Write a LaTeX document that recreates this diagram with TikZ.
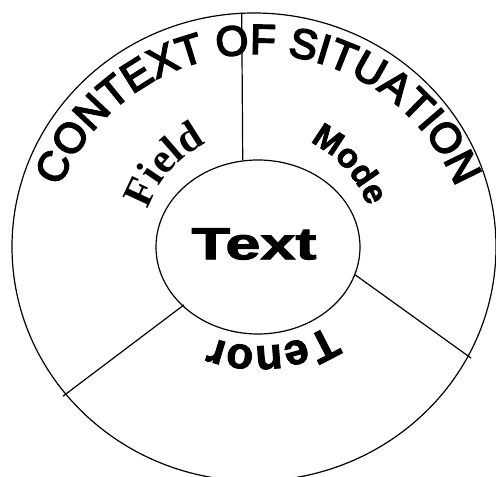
\documentclass[tikz,border=0pt]{standalone}
\usepackage{fontspec}
\usepackage{tikz}
\usepackage{xcolor}
\usetikzlibrary{
  positioning, shapes.geometric, decorations.text,
}
\definecolor{cInk}{HTML}{000000}
\newfontfamily\fSans{Liberation Sans}[FakeBold=4]
\newfontfamily\fSansBold{Liberation Sans Bold}
\newfontfamily\fSansHeavy{Liberation Sans Bold}[FakeBold=2]
\newfontfamily\fSerifBold{Liberation Serif Bold}
\newcommand\ctxFont{\fSans\fontsize{42}{46}\selectfont}
\newcommand\fieldFont{\fSerifBold\fontsize{42}{46}\selectfont}
\newcommand\modeFont{\fSansHeavy\fontsize{34}{38}\selectfont}
\newcommand\tenorFont{\fSansHeavy\fontsize{44}{48}\selectfont}

\tikzset{
  ring/.style={draw=cInk, ellipse, line width=1.2pt, inner sep=0pt},
  divider/.style={draw=cInk, line width=1.2pt},
  arch/.style={decorate, decoration={text along path, text align=center, text color=cInk}},
}

\begin{document}
\begin{tikzpicture}[x=1pt, y=1pt]
  \clip (0,0) rectangle (496,477);
  \useasboundingbox (0,0) rectangle (496,477);
  % the two rings
  \node[ring, minimum width=484pt, minimum height=468pt] (situation) at (254,230) {};
  \node[ring, minimum width=204pt, minimum height=174pt] (core) at (258,230) {};
  \node[font=\fSansHeavy\fontsize{45}{48}\selectfont, text=cInk, xscale=1.4] (text) at (254,233) {Text};
  % dividers between field, mode and tenor
  \draw[divider] (core.100) -- (situation.93);
  \draw[divider, shorten <=-2pt, shorten >=-3pt] (core.218) -- (situation.218);
  \draw[divider, shorten >=-3pt] (core.-16) -- (situation.-27.8);
  % curved labels
  \coordinate (hub) at (258,209);
  \path[arch, font=\ctxFont, decoration={text={|\ctxFont|CONTEXT OF SITUATION}}]
    ([shift={(165:214)}]hub) arc[start angle=165, end angle=15, radius=214];
  \path[arch, font=\fieldFont, decoration={text={|\fieldFont|Field}}]
    ([shift={(184:116)}]core.center) arc[start angle=184, end angle=94, radius=116];
  \path[arch, font=\modeFont, decoration={text={|\modeFont|Mode}}]
    ([shift={(87:117)}]core.center) arc[start angle=87, end angle=-3, radius=117];
  \path[arch, font=\tenorFont, decoration={text={|\tenorFont|Tenor}}]
    ([shift={(-30:115 and 99)}]core.center) arc[start angle=-30, end angle=-135, x radius=115, y radius=99];
\end{tikzpicture}
\end{document}
